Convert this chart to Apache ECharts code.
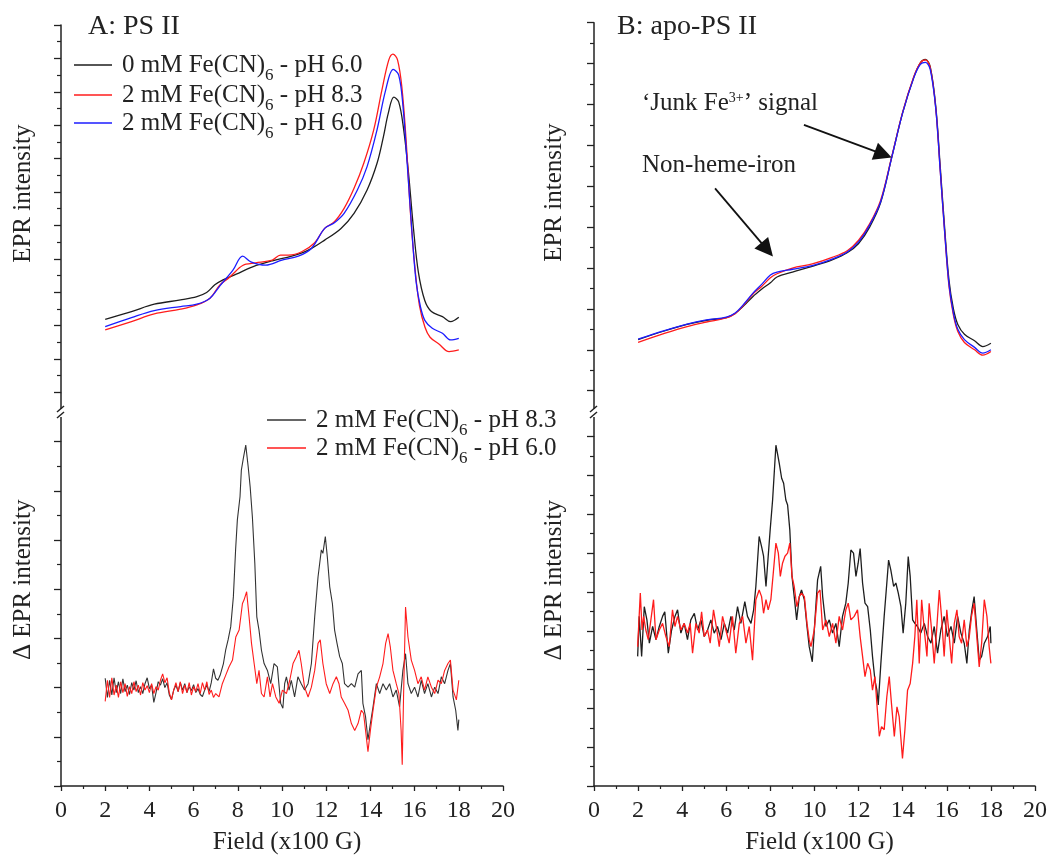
<!DOCTYPE html>
<html>
<head>
<meta charset="utf-8">
<script src="https://cdn.jsdelivr.net/npm/echarts@6/dist/echarts.min.js"></script>
<style>
  html, body { margin: 0; padding: 0; background: #fff; }
  #chart { width: 1063px; height: 856px; }
</style>
</head>
<body>
<div id="chart"></div>
<script>
// ---- Field axis (x100 G) ----
const fieldTicks = { min: 0, max: 20, step: 2 };

// ---- Panel A (PS II): EPR spectra, [field, intensity] ----
const psA_0mM_pH60 = [[2.0,2.19],[3.19,2.42],[4.22,2.64],[5.41,2.77],[6.15,2.87],[6.59,2.99],[6.96,3.22],[7.33,3.37],[7.93,3.54],[8.67,3.76],[9.56,3.94],[10.44,4.08],[11.19,4.26],[11.93,4.56],[12.67,4.91],[13.26,5.36],[13.85,6.06],[14.3,6.86],[14.59,7.66],[14.81,8.36],[15.06,8.84],[15.28,8.70],[15.5,7.9],[15.72,6.6],[15.95,4.9],[16.17,3.6],[16.46,2.75],[16.76,2.42],[17.26,2.27],[17.63,2.12],[18.0,2.25]];
const psA_2mM_pH83 = [[2.0,1.87],[3.19,2.12],[4.22,2.35],[5.41,2.49],[6.15,2.62],[6.74,2.82],[7.19,3.22],[7.63,3.45],[8.07,3.73],[8.22,3.80],[8.37,3.84],[8.81,3.88],[9.56,3.96],[9.93,4.11],[10.3,4.11],[10.89,4.21],[11.48,4.48],[11.93,4.91],[12.37,5.11],[12.81,5.51],[13.26,6.11],[13.7,6.86],[14.15,7.86],[14.52,9.05],[14.83,9.95],[15.02,10.13],[15.23,9.95],[15.43,9.1],[15.62,7.5],[15.82,5.3],[16.02,3.7],[16.22,2.6],[16.47,1.95],[16.7,1.65],[17.1,1.45],[17.56,1.22],[18.0,1.27]];
const psA_2mM_pH60 = [[2.0,1.97],[3.19,2.24],[4.22,2.45],[5.41,2.57],[6.15,2.64],[6.74,2.82],[7.19,3.19],[7.78,3.66],[8.22,4.08],[8.59,3.91],[9.26,3.81],[10.0,3.96],[10.74,4.08],[11.33,4.31],[11.93,4.91],[12.37,5.08],[12.81,5.36],[13.41,6.06],[13.85,6.76],[14.3,7.86],[14.69,9.05],[15.03,9.67],[15.28,9.50],[15.47,8.6],[15.67,6.8],[15.87,4.9],[16.07,3.3],[16.27,2.55],[16.47,2.15],[16.8,1.92],[17.26,1.77],[17.63,1.57],[18.0,1.62]];

// ---- Panel A: difference spectra ----
const dA_pH83 = [[2.0,2.19],[2.1,1.80],[2.2,2.15],[2.3,1.85],[2.4,2.20],[2.5,1.90],[2.6,2.12],[2.7,1.88],[2.8,2.18],[2.9,1.92],[3.0,2.05],[3.1,1.86],[3.2,2.10],[3.3,1.95],[3.4,2.14],[3.5,1.90],[3.6,2.02],[3.7,1.88],[3.8,2.08],[3.9,2.20],[4.0,1.98],[4.1,2.05],[4.2,1.70],[4.3,1.90],[4.4,2.12],[4.5,2.05],[4.6,2.18],[4.7,2.00],[4.8,2.10],[4.9,1.85],[5.0,1.76],[5.1,1.95],[5.2,2.05],[5.3,1.92],[5.4,2.10],[5.5,1.95],[5.6,2.08],[5.7,1.90],[5.8,2.02],[5.9,1.94],[6.0,2.06],[6.1,1.90],[6.2,1.98],[6.3,1.86],[6.4,1.82],[6.5,1.95],[6.6,2.05],[6.7,1.92],[6.8,2.10],[6.9,2.38],[7.0,2.19],[7.1,2.15],[7.2,2.25],[7.35,2.49],[7.45,2.76],[7.56,2.97],[7.68,3.24],[7.8,3.85],[7.9,4.80],[7.98,5.41],[8.1,5.88],[8.16,6.42],[8.25,6.66],[8.36,6.93],[8.47,6.49],[8.56,6.08],[8.66,5.47],[8.77,4.53],[8.86,3.44],[8.96,3.17],[9.07,2.76],[9.19,2.49],[9.34,2.35],[9.49,2.08],[9.64,2.49],[9.79,2.42],[9.94,1.68],[10.04,1.58],[10.12,2.08],[10.2,2.22],[10.32,1.95],[10.42,2.15],[10.57,1.81],[10.72,2.22],[10.87,2.08],[11.02,1.95],[11.18,2.08],[11.33,2.49],[11.48,3.44],[11.63,4.25],[11.78,4.80],[11.85,4.73],[11.96,5.07],[12.05,4.66],[12.16,4.05],[12.28,3.71],[12.38,3.17],[12.49,2.90],[12.61,2.63],[12.73,2.49],[12.83,2.08],[12.99,2.01],[13.14,2.08],[13.29,2.01],[13.44,2.28],[13.59,2.35],[13.66,1.68],[13.78,1.41],[13.89,0.94],[14.0,1.27],[14.12,1.61],[14.27,2.08],[14.42,1.88],[14.57,2.08],[14.72,1.95],[14.87,2.08],[15.02,1.81],[15.17,1.95],[15.32,1.61],[15.47,2.35],[15.59,2.69],[15.7,2.08],[15.85,1.88],[16.0,2.01],[16.15,1.81],[16.3,2.15],[16.45,1.88],[16.6,2.08],[16.76,1.81],[16.91,2.01],[17.06,1.88],[17.21,2.22],[17.36,2.08],[17.51,2.35],[17.62,2.49],[17.74,1.81],[17.86,1.54],[17.96,1.13],[18.0,1.35]];
const dA_pH60 = [[2.0,1.72],[2.1,2.15],[2.2,1.80],[2.3,2.20],[2.4,1.85],[2.5,2.05],[2.6,1.80],[2.7,2.12],[2.8,1.90],[2.9,2.08],[3.0,1.82],[3.1,2.02],[3.2,1.88],[3.3,2.12],[3.4,1.92],[3.5,2.05],[3.6,1.85],[3.7,2.10],[3.8,1.95],[3.9,2.04],[4.0,1.90],[4.1,2.08],[4.2,1.88],[4.3,2.02],[4.4,1.95],[4.5,2.15],[4.6,2.28],[4.7,2.10],[4.8,2.20],[4.9,1.90],[5.0,1.75],[5.1,1.95],[5.2,2.10],[5.3,1.92],[5.4,2.12],[5.5,1.88],[5.6,2.05],[5.7,1.90],[5.8,2.10],[5.9,1.85],[6.0,2.02],[6.1,1.92],[6.2,2.08],[6.3,1.88],[6.4,2.10],[6.5,1.95],[6.6,2.12],[6.7,1.86],[6.8,1.95],[6.9,1.80],[7.0,1.88],[7.15,1.81],[7.3,2.08],[7.45,2.25],[7.6,2.42],[7.76,2.56],[7.91,3.03],[8.06,3.17],[8.21,3.71],[8.28,3.78],[8.4,3.95],[8.51,3.44],[8.62,2.90],[8.74,2.49],[8.86,2.08],[8.96,2.35],[9.07,1.88],[9.19,1.81],[9.34,2.22],[9.46,1.81],[9.57,2.08],[9.72,1.81],[9.87,1.68],[10.02,1.95],[10.2,1.88],[10.35,2.15],[10.5,2.49],[10.65,2.63],[10.77,2.76],[10.87,2.49],[11.02,2.01],[11.18,1.81],[11.33,2.01],[11.48,2.35],[11.63,2.90],[11.73,2.97],[11.85,2.49],[12.0,2.08],[12.16,1.88],[12.31,2.08],[12.46,2.22],[12.58,2.08],[12.68,1.81],[12.83,1.68],[12.99,1.54],[13.14,1.27],[13.29,1.13],[13.44,1.27],[13.59,1.54],[13.69,1.48],[13.78,1.13],[13.89,0.70],[14.0,1.13],[14.12,1.54],[14.27,2.01],[14.42,2.22],[14.57,2.49],[14.69,2.90],[14.8,3.10],[14.9,2.83],[15.02,2.35],[15.17,2.08],[15.29,1.88],[15.39,1.13],[15.44,0.43],[15.5,1.81],[15.59,3.64],[15.7,3.03],[15.85,2.56],[16.0,2.35],[16.15,2.08],[16.3,2.22],[16.45,1.95],[16.6,2.22],[16.76,2.01],[16.91,1.88],[17.06,2.15],[17.21,2.08],[17.36,2.35],[17.51,2.49],[17.62,2.56],[17.74,1.95],[17.89,1.75],[18.0,2.15]];

// ---- Panel B (apo-PS II): EPR spectra ----
const apoB_0mM_pH60 = [[2.0,1.25],[3.19,1.46],[4.22,1.62],[5.1,1.72],[6.0,1.79],[6.4,1.89],[6.8,2.08],[7.2,2.30],[7.6,2.48],[8.0,2.64],[8.3,2.78],[9.0,2.90],[9.9,3.04],[10.8,3.20],[11.5,3.38],[12.0,3.60],[12.5,4.00],[13.0,4.60],[13.5,5.70],[14.0,6.80],[14.5,7.66],[14.8,8.02],[15.03,8.10],[15.25,7.92],[15.5,6.95],[15.7,5.5],[15.9,4.0],[16.1,2.7],[16.3,2.0],[16.5,1.62],[16.8,1.38],[17.26,1.22],[17.63,1.08],[18.0,1.16]];
const apoB_2mM_pH83 = [[2.0,1.18],[3.19,1.40],[4.22,1.57],[5.1,1.68],[6.0,1.78],[6.4,1.88],[6.8,2.10],[7.2,2.36],[7.6,2.55],[8.0,2.76],[8.3,2.86],[9.0,3.00],[9.9,3.10],[10.8,3.26],[11.5,3.43],[12.0,3.68],[12.5,4.08],[13.0,4.66],[13.5,5.72],[14.0,6.82],[14.5,7.68],[14.8,8.02],[15.03,8.09],[15.25,7.90],[15.5,6.9],[15.7,5.4],[15.9,3.9],[16.1,2.55],[16.3,1.85],[16.5,1.45],[16.8,1.18],[17.26,1.0],[17.63,0.87],[18.0,0.96]];
const apoB_2mM_pH60 = [[2.0,1.26],[3.19,1.47],[4.22,1.63],[5.1,1.73],[6.0,1.80],[6.4,1.90],[6.8,2.12],[7.2,2.38],[7.6,2.60],[8.0,2.83],[8.3,2.90],[9.0,2.97],[9.9,3.06],[10.8,3.22],[11.5,3.40],[12.0,3.64],[12.5,4.05],[13.0,4.62],[13.5,5.70],[14.0,6.80],[14.5,7.65],[14.8,7.98],[15.03,8.03],[15.25,7.85],[15.5,6.9],[15.7,5.4],[15.9,3.9],[16.1,2.6],[16.3,1.9],[16.5,1.5],[16.8,1.25],[17.26,1.06],[17.63,0.92],[18.0,1.0]];

// ---- Panel B: difference spectra ----
const dB_pH83 = [[1.98,3.34],[2.05,4.37],[2.16,3.34],[2.28,4.62],[2.4,4.28],[2.51,3.68],[2.66,4.11],[2.81,3.77],[2.96,4.11],[3.11,4.37],[3.21,4.49],[3.37,3.42],[3.52,4.02],[3.67,4.37],[3.79,4.54],[3.94,3.94],[4.09,4.19],[4.24,3.77],[4.39,4.28],[4.55,4.45],[4.7,4.02],[4.85,4.28],[5.0,3.85],[5.15,4.02],[5.3,4.28],[5.45,3.94],[5.6,4.11],[5.76,3.77],[5.91,4.19],[6.06,3.94],[6.21,4.37],[6.36,4.02],[6.51,4.62],[6.66,4.19],[6.84,4.75],[6.96,4.37],[7.12,4.19],[7.24,4.54],[7.34,5.14],[7.49,6.43],[7.6,6.17],[7.69,5.92],[7.8,5.14],[7.9,5.92],[7.99,6.60],[8.1,7.37],[8.25,8.78],[8.32,8.57],[8.4,8.32],[8.51,7.93],[8.6,7.80],[8.7,7.37],[8.78,7.24],[8.88,6.60],[8.98,5.40],[9.08,4.88],[9.19,4.28],[9.31,4.88],[9.41,5.05],[9.54,4.80],[9.66,4.11],[9.76,3.59],[9.9,3.20],[9.99,4.02],[10.14,5.31],[10.28,5.66],[10.37,4.88],[10.52,4.11],[10.67,4.28],[10.82,3.94],[10.97,4.19],[11.12,3.59],[11.27,4.37],[11.42,4.71],[11.53,5.23],[11.65,6.08],[11.77,6.00],[11.88,5.40],[11.98,5.74],[12.07,6.12],[12.18,5.23],[12.29,4.71],[12.41,4.62],[12.53,4.02],[12.63,3.34],[12.74,2.73],[12.83,2.47],[12.89,2.09],[13.01,3.16],[13.16,4.37],[13.28,5.23],[13.36,5.82],[13.46,5.57],[13.59,5.14],[13.69,5.23],[13.8,4.97],[13.92,4.62],[14.02,3.94],[14.14,4.71],[14.25,5.91],[14.34,5.40],[14.45,4.28],[14.55,4.19],[14.67,4.11],[14.82,3.94],[14.98,4.19],[15.13,3.85],[15.28,3.68],[15.43,4.11],[15.58,3.42],[15.73,4.02],[15.88,4.37],[16.03,3.85],[16.19,4.11],[16.34,3.68],[16.49,4.37],[16.64,3.94],[16.79,3.68],[16.91,3.16],[17.02,4.02],[17.14,4.54],[17.24,4.88],[17.36,4.02],[17.47,3.24],[17.58,3.34],[17.7,3.68],[17.85,3.85],[17.97,4.11],[18.0,3.68]];
const dB_pH60 = [[1.98,3.59],[2.1,4.97],[2.18,4.02],[2.25,4.37],[2.35,4.02],[2.46,3.77],[2.58,4.28],[2.7,4.80],[2.81,3.77],[2.96,4.02],[3.11,4.19],[3.26,3.85],[3.41,3.59],[3.56,4.54],[3.67,4.11],[3.79,4.37],[3.94,4.02],[4.09,4.19],[4.24,3.94],[4.36,4.19],[4.47,3.42],[4.62,4.19],[4.77,3.94],[4.88,4.49],[5.0,3.85],[5.15,4.02],[5.27,3.68],[5.42,4.54],[5.57,4.02],[5.68,3.59],[5.83,4.37],[5.98,4.02],[6.13,3.68],[6.28,4.37],[6.43,3.42],[6.59,4.19],[6.74,4.37],[6.89,3.68],[7.04,4.11],[7.19,3.24],[7.34,4.80],[7.49,5.05],[7.6,4.88],[7.69,4.45],[7.8,4.80],[7.9,4.54],[8.02,4.80],[8.13,5.48],[8.25,6.26],[8.36,6.00],[8.45,5.40],[8.55,5.74],[8.66,5.92],[8.78,6.00],[8.88,6.26],[8.98,5.40],[9.08,5.14],[9.2,4.62],[9.31,4.88],[9.41,4.97],[9.54,4.88],[9.66,4.19],[9.76,3.77],[9.84,3.59],[9.99,4.02],[10.14,4.97],[10.25,5.05],[10.37,4.02],[10.52,4.28],[10.67,3.85],[10.82,4.19],[10.97,3.68],[11.12,4.37],[11.27,4.02],[11.42,4.54],[11.53,4.71],[11.65,4.28],[11.8,4.37],[11.95,4.54],[12.07,3.85],[12.18,3.34],[12.29,2.82],[12.41,3.16],[12.53,2.99],[12.63,2.47],[12.74,2.82],[12.86,1.88],[12.94,1.28],[13.04,1.53],[13.16,1.45],[13.28,2.30],[13.39,2.82],[13.49,2.13],[13.62,1.28],[13.74,2.04],[13.84,1.79],[13.99,0.71],[14.1,1.45],[14.22,2.47],[14.34,2.64],[14.45,3.16],[14.55,3.85],[14.64,4.80],[14.75,3.16],[14.86,4.80],[14.98,4.02],[15.1,3.34],[15.2,4.71],[15.31,4.02],[15.43,3.16],[15.55,4.11],[15.66,5.05],[15.76,4.37],[15.88,3.34],[16.0,4.54],[16.11,3.85],[16.22,3.16],[16.34,4.19],[16.46,4.54],[16.56,3.85],[16.67,3.68],[16.79,4.28],[16.91,3.59],[17.02,3.85],[17.12,4.37],[17.24,4.71],[17.36,3.85],[17.47,3.07],[17.58,3.68],[17.7,4.80],[17.82,4.37],[17.92,3.59],[18.0,3.16]];

// ---- Arrow annotations in panel B, [field, intensity] from -> to (arrowhead centre) ----
const junkArrow = [[9.52, 6.50], [13.12, 5.78]];
const nonHemeArrow = [[5.49, 4.95], [7.85, 3.45]];

// ---- Legend labels ({s|..} marks a subscript) ----
const legendLabels = {
  A_0mM_60: '0 mM Fe(CN){s|6} - pH 6.0',
  A_2mM_83: '2 mM Fe(CN){s|6} - pH 8.3',
  A_2mM_60: '2 mM Fe(CN){s|6} - pH 6.0',
  dA_83: '2 mM Fe(CN){s|6} - pH 8.3',
  dA_60: '2 mM Fe(CN){s|6} - pH 6.0'
};

const SERIF = '"Liberation Serif", "Times New Roman", serif';
const INK = '#222';
const BLACK = '#1e1e1e', RED = '#ff1c1c', BLUE = '#1c1cff';

// panel frames (pixels); breakY is where the "//" mark sits on the y axis
const frames = [
  { left: 61,  top: 25,    width: 442, height: 367.4, yMax: 11 }, // A spectra
  { left: 61,  top: 441.7, width: 442, height: 344.3, yMax: 7 },  // A difference
  { left: 594, top: 22.7,  width: 441, height: 368,   yMax: 9 },  // B spectra
  { left: 594, top: 436.7, width: 441, height: 349.3, yMax: 9 }   // B difference
];
const breakY = 413;

const chart = echarts.init(document.getElementById('chart'), null, { renderer: 'canvas' });

function xAxisFor(i, visible) {
  return {
    type: 'value', gridIndex: i, min: fieldTicks.min, max: fieldTicks.max, interval: fieldTicks.step,
    show: visible,
    name: 'Field (x100 G)', nameLocation: 'middle', nameGap: 44,
    nameTextStyle: { fontFamily: SERIF, fontSize: 25, color: INK, padding: [0, 0, 0, 10] },
    axisLine: { show: true, onZero: false, lineStyle: { color: INK, width: 1.5 } },
    axisTick: { show: true, length: 5, lineStyle: { color: INK, width: 1.3 } },
    minorTick: { show: true, splitNumber: 2, length: 3, lineStyle: { color: INK, width: 1.2 } },
    axisLabel: { fontFamily: SERIF, fontSize: 24, color: INK, margin: 13 },
    splitLine: { show: false }
  };
}

function yAxisFor(i, name, gap, shift) {
  return {
    type: 'value', gridIndex: i, min: 0, max: frames[i].yMax, interval: 1,
    name: name, nameLocation: 'middle', nameGap: gap,
    nameTextStyle: { fontFamily: SERIF, fontSize: 25, color: INK, padding: [0, 0, 0, shift] },
    axisLine: { show: true, onZero: false, lineStyle: { color: INK, width: 1.5 } },
    axisTick: { show: true, length: 7, lineStyle: { color: INK, width: 1.3 } },
    minorTick: { show: true, splitNumber: 2, length: 4, lineStyle: { color: INK, width: 1.2 } },
    axisLabel: { show: false },
    splitLine: { show: false }
  };
}

function spectrum(name, grid, data, color, smooth, extra) {
  return Object.assign({
    name: name, type: 'line', xAxisIndex: grid, yAxisIndex: grid,
    data: data, showSymbol: false, symbol: 'none', smooth: smooth,
    lineStyle: { color: color, width: 1.3 }, itemStyle: { color: color },
    emphasis: { disabled: true }, animation: false
  }, extra || {});
}

// one legend row; the key is a thin bar the colour of its series
function legendFor(name, left, top, iconWidth) {
  return {
    data: [{ name: name, icon: 'rect' }], left: left, top: top, orient: 'vertical', padding: 0,
    itemWidth: iconWidth, itemHeight: 1.5, selectedMode: false,
    formatter: (n) => legendLabels[n],
    textStyle: {
      fontFamily: SERIF, fontSize: 25, color: INK, lineHeight: 38, padding: [0, 0, 0, 5],
      rich: { s: { fontFamily: SERIF, fontSize: 17, lineHeight: 17, verticalAlign: 'bottom', color: INK } }
    }
  };
}

const arrowLine = {
  silent: true, animation: false,
  symbol: ['none', 'triangle'], symbolSize: 18,
  label: { show: false },
  lineStyle: { color: '#111', width: 1.8, type: 'solid' },
  itemStyle: { color: '#111' },
  emphasis: { disabled: true },
  data: [
    [{ coord: junkArrow[0] }, { coord: junkArrow[1] }],
    [{ coord: nonHemeArrow[0] }, { coord: nonHemeArrow[1] }]
  ]
};

// y-axis break: short axis stubs and the "//" mark between spectra and difference panels
function axisBreak(x, topEnd, bottomStart) {
  const mid = breakY;
  const line = (x1, y1, x2, y2) => ({
    type: 'line', silent: true, shape: { x1, y1, x2, y2 },
    style: { stroke: INK, lineWidth: 1.5 }
  });
  return [
    line(x, topEnd, x, mid - 4),
    line(x, mid + 4, x, bottomStart),
    line(x - 4, mid - 1, x + 3, mid - 7),
    line(x - 4, mid + 5, x + 3, mid - 1)
  ];
}

const textStyle = (text, size, extra) => Object.assign({
  text: text, fontFamily: SERIF, fontSize: size, fill: INK, verticalAlign: 'top'
}, extra || {});

const option = {
  backgroundColor: '#fff',
  animation: false,
  grid: frames.map(f => ({ left: f.left, top: f.top, width: f.width, height: f.height, containLabel: false })),
  xAxis: [xAxisFor(0, false), xAxisFor(1, true), xAxisFor(2, false), xAxisFor(3, true)],
  yAxis: [
    yAxisFor(0, 'EPR intensity', 25, 30),
    yAxisFor(1, '\u0394 EPR intensity', 25, 68),
    yAxisFor(2, 'EPR intensity', 27, 28),
    yAxisFor(3, '\u0394 EPR intensity', 27, 62)
  ],
  legend: [
    legendFor('A_0mM_60', 74, 46, 38),
    legendFor('A_2mM_83', 74, 76, 38),
    legendFor('A_2mM_60', 74, 104, 38),
    legendFor('dA_83', 267, 401, 39),
    legendFor('dA_60', 267, 429, 39)
  ],
  series: [
    spectrum('A_0mM_60', 0, psA_0mM_pH60, BLACK, 0.35),
    spectrum('A_2mM_83', 0, psA_2mM_pH83, RED, 0.35),
    spectrum('A_2mM_60', 0, psA_2mM_pH60, BLUE, 0.35),
    spectrum('dA_83', 1, dA_pH83, '#333', false, { lineStyle: { color: '#333', width: 1.1 } }),
    spectrum('dA_60', 1, dA_pH60, RED, false, { lineStyle: { color: RED, width: 1.1 } }),
    spectrum('B_0mM_60', 2, apoB_0mM_pH60, BLACK, 0.35),
    spectrum('B_2mM_83', 2, apoB_2mM_pH83, RED, 0.35),
    spectrum('B_2mM_60', 2, apoB_2mM_pH60, BLUE, 0.35, { markLine: arrowLine }),
    spectrum('dB_83', 3, dB_pH83, BLACK, false, { lineStyle: { color: BLACK, width: 1.3 } }),
    spectrum('dB_60', 3, dB_pH60, RED, false, { lineStyle: { color: RED, width: 1.3 } })
  ],
  graphic: {
    elements: [
      ...axisBreak(frames[0].left, frames[0].top + frames[0].height, frames[1].top),
      ...axisBreak(frames[2].left, frames[2].top + frames[2].height, frames[3].top),
      { type: 'text', x: 88, y: 13, silent: true, style: textStyle('A: PS II', 28) },
      { type: 'text', x: 617, y: 13, silent: true, style: textStyle('B: apo-PS II', 28) },
      {
        type: 'text', x: 642, y: 91, silent: true,
        style: textStyle('\u2018Junk Fe{sup|3+}\u2019 signal', 25, {
          lineHeight: 25,
          rich: { sup: { fontFamily: SERIF, fontSize: 14, lineHeight: 17, verticalAlign: 'top', fill: INK } }
        })
      },
      { type: 'text', x: 642, y: 153, silent: true, style: textStyle('Non-heme-iron', 25) }
    ]
  }
};

chart.setOption(option);
</script>
</body>
</html>
